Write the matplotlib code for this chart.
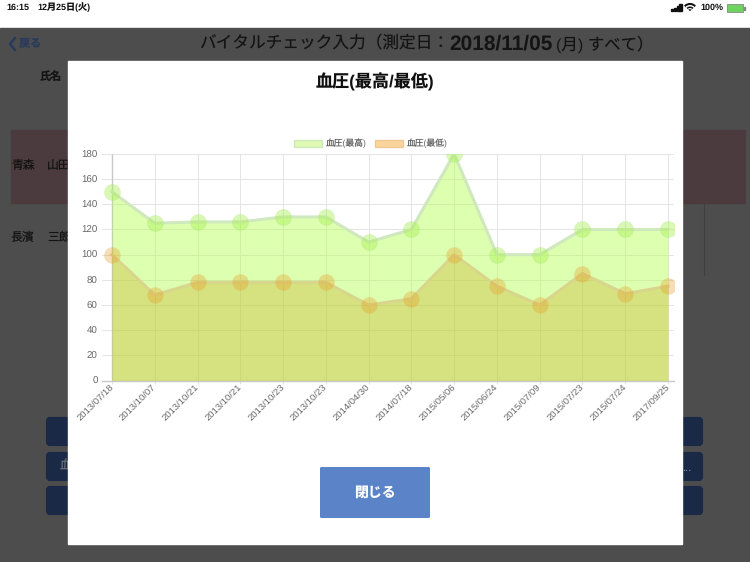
import matplotlib
matplotlib.use('Agg')
from matplotlib import pyplot as plt
from matplotlib.patches import Rectangle, FancyBboxPatch, Patch, Wedge
from matplotlib.transforms import ScaledTranslation

plt.rcParams['font.family'] = ['Liberation Sans', 'Noto Sans CJK JP', 'DejaVu Sans']
plt.rcParams['text.hinting'] = 'no_hinting'

dates = ['2013/07/18', '2013/10/07', '2013/10/21', '2013/10/21', '2013/10/23',
         '2013/10/23', '2014/04/30', '2014/07/18', '2015/05/06', '2015/06/24',
         '2015/07/09', '2015/07/23', '2015/07/24', '2017/09/25']
bp_high = [150, 125, 126, 126, 130, 130, 110, 120, 180, 100, 100, 120, 120, 120]
bp_low = [100, 68, 78, 78, 78, 78, 60, 65, 100, 75, 60, 85, 69, 75]
y_ticks = [0, 20, 40, 60, 80, 100, 120, 140, 160, 180]

W, H = 750, 562
fig = plt.figure(figsize=(7.5, 5.62), dpi=100)

# the dimmed app screen behind the popup, in pixel coordinates
bg = fig.add_axes([0, 0, 1, 1])
bg.set_xlim(0, W)
bg.set_ylim(H, 0)
bg.axis('off')
dark = '#4d4d4d'
bg.add_patch(Rectangle((0, 28), W, H - 28, color=dark))
bg.add_patch(Rectangle((11, 130), 57, 73, color='#4b3b3e'))
bg.add_patch(Rectangle((682, 130), 63, 73, color='#4b3b3e'))
bg.plot([704, 704], [203, 275], color='#3f3f3f', lw=0.8)
for top in [417, 452, 486]:
    bg.add_patch(FancyBboxPatch((48, top + 2), 630, 25, boxstyle='round,pad=0,rounding_size=2',
                                fc='#1a2a46', ec='#1a2a46', lw=3))
    bg.add_patch(FancyBboxPatch((680, top + 2), 21, 25, boxstyle='round,pad=0,rounding_size=2',
                                fc='#1a2a46', ec='#1a2a46', lw=3))
bg.text(60, 466, '血', color='#6a6f78', fontsize=9, ha='left', va='center')
bg.text(683, 468, '...', color='#8a8f98', fontsize=8, ha='left', va='center')

# status bar
bg.text(6, 7.5, '16:15', fontsize=6.5, fontweight='bold', color='#111111', va='center')
bg.text(37, 7.5, '12月25日(火)', fontsize=6.5, fontweight='bold', color='#111111', va='center')
bg.text(700, 7.5, '100%', fontsize=6.5, fontweight='bold', color='#111111', va='center')
for i, h in enumerate([2, 3, 5, 7]):
    bg.add_patch(Rectangle((671 + i * 2.8, 11 - h), 2.2, h, color='#111111'))
for r, c in [(8, '#111111'), (6, 'white'), (4.5, '#111111'), (3, 'white'), (1.8, '#111111')]:
    bg.add_patch(Wedge((690, 11), r, 222, 318, color=c, lw=0))
bg.add_patch(Rectangle((727, 4), 16, 8, fc='#6fd35f', ec='#888888', lw=0.6))
bg.add_patch(Rectangle((743.5, 6.5), 1, 3, color='#888888'))

# nav bar
bg.plot([15, 10, 15], [38, 44, 50], color='#2a3a5c', lw=1.8)
bg.text(19, 44.5, '戻る', fontsize=8, fontweight='bold', color='#2a3a5c', va='center')
bg.text(449, 44, 'バイタルチェック入力（測定日：', fontsize=12, color='#141414',
        ha='right', va='center')
bg.text(449, 44.5, '2018/11/05', fontsize=15, fontweight='bold', color='#141414',
        ha='left', va='center')
bg.text(556, 44, '(月) すべて）', fontsize=11.8, color='#141414', ha='left', va='center')
bg.text(40, 77, '氏名', fontsize=8, fontweight='bold', color='#141414', va='center')
bg.text(11, 166, '青森', fontsize=8.5, color='#141414', va='center')
bg.text(47, 166, '山田', fontsize=8.5, color='#141414', va='center')
bg.text(11, 238, '長濱', fontsize=8.5, color='#141414', va='center')
bg.text(47, 238, '三郎', fontsize=8.5, color='#141414', va='center')

# popup
bg.add_patch(Rectangle((68, 61), 613.5, 482.5, color='white', zorder=3))
bg.text(375, 82, '血圧(最高/最低)', fontsize=12.3, fontweight='bold', color='#111111',
        ha='center', va='center', zorder=4)
bg.add_patch(FancyBboxPatch((320, 467), 110, 51, boxstyle='round,pad=0,rounding_size=1.5',
                            fc='#5a83c8', ec='none', zorder=4))
bg.text(375, 493, '閉じる', fontsize=10, fontweight='bold', color='white',
        ha='center', va='center', zorder=5)

# chart, the left part of the axes only holds the stubs of the grid
x0, x1, y0, y1 = 102, 674, 380.5, 154
step = (668 - 112) / 13
ax = fig.add_axes([x0 / W, 1 - y0 / H, (x1 - x0) / W, (y0 - y1) / H])
ax.patch.set_alpha(0)
xs = list(range(len(dates)))

ax.fill_between(xs, bp_high, 0, color='#b4ff50', alpha=0.45, lw=0, zorder=2)
ax.plot(xs, bp_high, color='#cfe8bd', lw=2.2, zorder=3)
ax.plot(xs, bp_high, 'o', ms=11.5, mfc='#a8f050', mec='#b8e890', mew=0.5, alpha=0.42, zorder=4)

ax.fill_between(xs, bp_low, 0, color='#c9a20f', alpha=0.3, lw=0, zorder=5)
ax.plot(xs, bp_low, color='#d8d68c', lw=2.2, zorder=6)
ax.plot(xs, bp_low, 'o', ms=11.5, mfc='#e89a20', mec='#e8c070', mew=0.5, alpha=0.33, zorder=7)

ax.set_xlim(-10 / step, (x1 - 112) / step)
ax.set_ylim(0, 180)
ax.set_yticks(y_ticks)
ax.set_xticks(xs)
ax.set_xticklabels(dates, rotation=45, ha='right', rotation_mode='anchor')
ax.tick_params(axis='y', length=0, labelsize=7, labelcolor='#666666', pad=3)
ax.tick_params(axis='x', length=2, width=0.7, color='#e2e2e2', labelsize=6.8,
               labelcolor='#666666', pad=1)
shift = ScaledTranslation(-3 / 100, 2 / 100, fig.dpi_scale_trans)
for lab in ax.get_xticklabels():
    lab.set_transform(lab.get_transform() + shift)
ax.grid(True, color='#e4e4e4', lw=0.7, zorder=1)
ax.set_axisbelow(True)
ax.axvline(0, color='#c8c8c8', lw=1.0, zorder=1.5)
for name, spine in ax.spines.items():
    spine.set_visible(name == 'bottom')
    spine.set_color('#c8c8c8')
    spine.set_linewidth(1.0)

handles = [Patch(fc='#def9b4', ec='#cfe8bd', lw=1, label='血圧(最高)'),
           Patch(fc='#fad49a', ec='#f0c890', lw=1, label='血圧(最低)')]
leg = ax.legend(handles=handles, loc='lower center', ncol=2, frameon=False, fontsize=6.3,
                bbox_to_anchor=(0.47, 1.01), handlelength=3.2, handleheight=0.9,
                handletextpad=0.5, columnspacing=0.9, borderaxespad=0, labelcolor='#666666')

fig.savefig('out.png', dpi=100)
